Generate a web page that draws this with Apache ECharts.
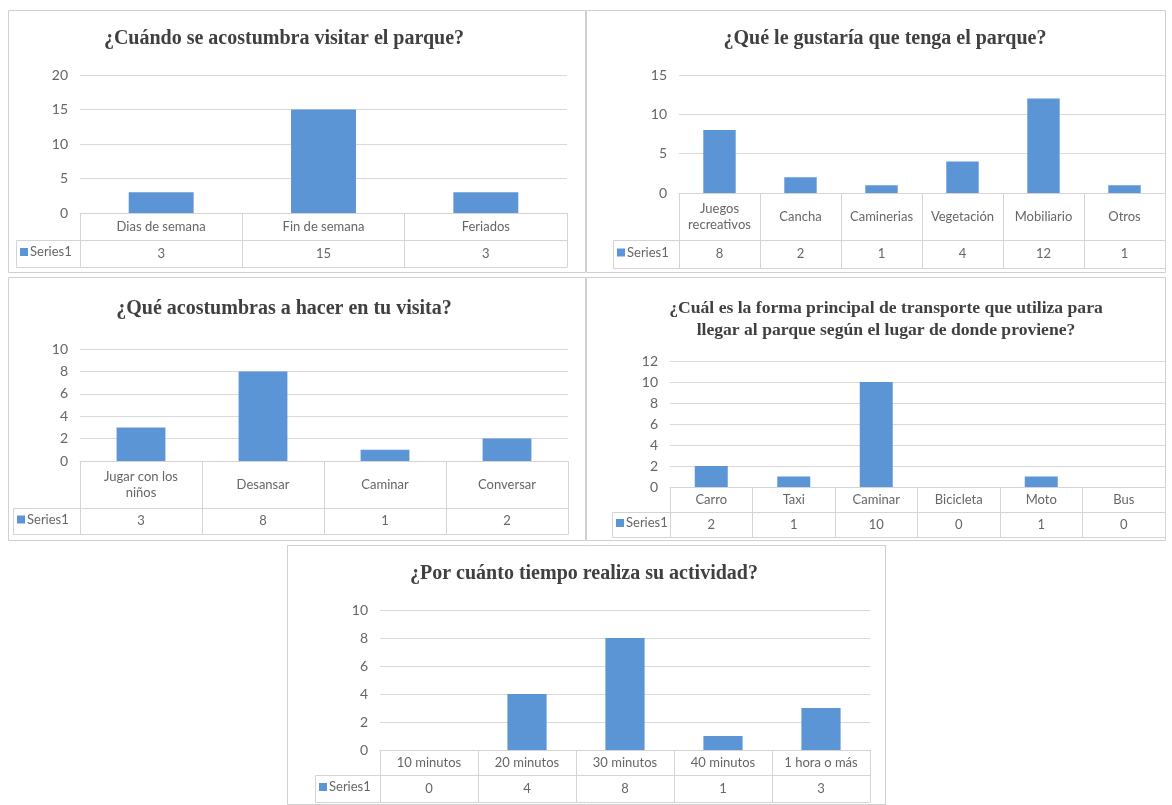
<!DOCTYPE html>
<html>
<head>
<meta charset="utf-8">
<script src="https://cdn.jsdelivr.net/npm/echarts@6/dist/echarts.min.js"></script>
<style>
html,body{margin:0;padding:0;background:#fff;}
#c{width:1172px;height:805px;}
</style>
</head>
<body>
<div id="c"></div>
<script>
// ---- data ----
const titles = [
  '¿Cuándo se acostumbra visitar el parque?',
  '¿Qué le gustaría que tenga el parque?',
  '¿Qué acostumbras a hacer en tu visita?',
  '¿Cuál es la forma principal de transporte que utiliza para\nllegar al parque según el lugar de donde proviene?',
  '¿Por cuánto tiempo realiza su actividad?'
];
const seriesName = 'Series1';
const cat1 = ['Dias de semana', 'Fin de semana', 'Feriados'];
const val1 = [3, 15, 3];
const cat2 = ['Juegos\nrecreativos', 'Cancha', 'Caminerias', 'Vegetación', 'Mobiliario', 'Otros'];
const val2 = [8, 2, 1, 4, 12, 1];
const cat3 = ['Jugar con los\nniños', 'Desansar', 'Caminar', 'Conversar'];
const val3 = [3, 8, 1, 2];
const cat4 = ['Carro', 'Taxi', 'Caminar', 'Bicicleta', 'Moto', 'Bus'];
const val4 = [2, 1, 10, 0, 1, 0];
const cat5 = ['10 minutos', '20 minutos', '30 minutos', '40 minutos', '1 hora o más'];
const val5 = [0, 4, 8, 1, 3];
const yMax = [20, 15, 10, 12, 10];
const yStep = [5, 5, 2, 2, 2];

const cats = [cat1, cat2, cat3, cat4, cat5];
const vals = [val1, val2, val3, val4, val5];

// ---- layout (pixels) ----
const layout = [
  {gl: 80,  gr: 567,  gt: 75,  gb: 213, catH: 27, valH: 27, sl: 16,  tx: 284, ty: 39,  tfs: 20,   panel: [8, 10, 577, 262]},
  {gl: 679, gr: 1165, gt: 75,  gb: 193, catH: 47, valH: 28, sl: 613, tx: 885, ty: 39,  tfs: 20,   panel: [586, 10, 579, 262]},
  {gl: 80,  gr: 568,  gt: 349, gb: 461, catH: 47, valH: 26, sl: 13,  tx: 284, ty: 309, tfs: 20,   panel: [8, 277, 577, 263]},
  {gl: 670, gr: 1165, gt: 361, gb: 487, catH: 25, valH: 25, sl: 612, tx: 886, ty: 319, tfs: 17.6, panel: [586, 277, 579, 263]},
  {gl: 380, gr: 870,  gt: 610, gb: 750, catH: 25, valH: 27, sl: 315, tx: 584, ty: 574, tfs: 20,   panel: [287, 545, 598, 259]}
];

const BLUE = '#5b95d5';
const LINE = '#d4d4d4';
const GRIDC = '#d9d9d9';
const TXT = '#666666';
const FONT = 'Lato, "Liberation Sans", sans-serif';
const TFONT = '"Liberation Serif", "DejaVu Serif", serif';

const grids = [], xAxes = [], yAxes = [], series = [], legends = [], graphics = [];

cats.forEach((cat, i) => {
  const L = layout[i];
  const v = vals[i];
  grids.push({left: L.gl, top: L.gt, width: L.gr - L.gl, height: L.gb - L.gt});
  const base = xAxes.length;
  // category row
  xAxes.push({
    type: 'category', gridIndex: i, data: cat, position: 'bottom',
    axisLine: {show: true, onZero: false, lineStyle: {color: LINE}},
    axisTick: {show: true, length: L.catH, lineStyle: {color: LINE}},
    axisLabel: {interval: 0, margin: L.catH / 2, verticalAlign: 'middle', color: TXT,
      fontSize: 13, fontFamily: FONT, lineHeight: 16},
    splitLine: {show: false}
  });
  // value row
  xAxes.push({
    type: 'category', gridIndex: i, data: v.map(String), position: 'bottom', offset: L.catH,
    axisLine: {show: true, onZero: false, lineStyle: {color: LINE}},
    axisTick: {show: true, length: L.valH, lineStyle: {color: LINE}},
    axisLabel: {interval: 0, margin: L.valH / 2, verticalAlign: 'middle', color: TXT,
      fontSize: 13, fontFamily: FONT},
    splitLine: {show: false}
  });
  // bottom border of table
  xAxes.push({
    type: 'category', gridIndex: i, data: cat, position: 'bottom', offset: L.catH + L.valH,
    axisLine: {show: true, onZero: false, lineStyle: {color: LINE}},
    axisTick: {show: false}, axisLabel: {show: false}, splitLine: {show: false}
  });
  yAxes.push({
    type: 'value', gridIndex: i, min: 0, max: yMax[i], interval: yStep[i],
    axisLine: {show: false}, axisTick: {show: false},
    axisLabel: {margin: 12, color: TXT, fontSize: 14, fontFamily: FONT},
    splitLine: {show: true, lineStyle: {color: GRIDC}}
  });
  series.push({
    type: 'bar', name: seriesName, xAxisIndex: base, yAxisIndex: i, data: v,
    barWidth: '40%', itemStyle: {color: BLUE}, silent: true
  });
  legends.push({
    data: [seriesName], left: L.sl + 4, top: L.gb + L.catH + L.valH / 2 - 8,
    itemWidth: 8, itemHeight: 8, padding: 0, selectedMode: false, icon: 'rect',
    itemStyle: {color: BLUE},
    textStyle: {color: TXT, fontSize: 13, fontFamily: FONT, padding: [0, 0, 0, -3]}
  });
  // panel border
  graphics.push({
    type: 'rect', silent: true, z: 0,
    shape: {x: L.panel[0] + 0.5, y: L.panel[1] + 0.5, width: L.panel[2], height: L.panel[3]},
    style: {fill: 'none', stroke: '#d0d0d0', lineWidth: 1}
  });
  // series name cell
  graphics.push({
    type: 'rect', silent: true, z: 1,
    shape: {x: L.sl + 0.5, y: L.gb + L.catH + 0.5, width: L.gl - L.sl, height: L.valH},
    style: {fill: 'none', stroke: LINE, lineWidth: 1}
  });
  // title
  graphics.push({
    type: 'text', silent: true, z: 2, x: L.tx, y: L.ty,
    style: {text: titles[i], align: 'center', verticalAlign: 'middle',
      fontSize: L.tfs, fontWeight: 'bold', fontFamily: TFONT, lineHeight: 22, fill: '#404040'}
  });
});

const chart = echarts.init(document.getElementById('c'), null, {renderer: 'canvas'});
chart.setOption({
  animation: false,
  backgroundColor: '#ffffff',
  grid: grids,
  xAxis: xAxes,
  yAxis: yAxes,
  legend: legends,
  series: series,
  graphic: graphics
});
</script>
</body>
</html>
